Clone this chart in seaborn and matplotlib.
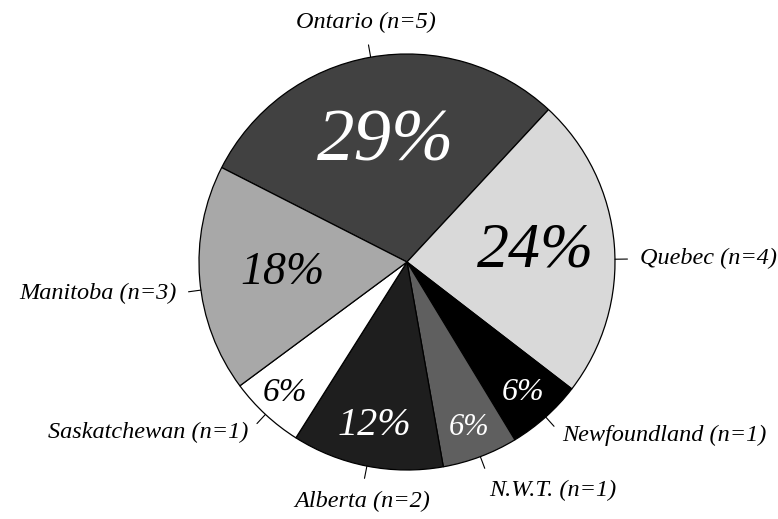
import numpy as np
import matplotlib
matplotlib.use("Agg")
import matplotlib.pyplot as plt
import seaborn as sns

# slice data, clockwise from the top-left
regions = ["Ontario", "Quebec", "Newfoundland", "N.W.T.", "Alberta", "Saskatchewan", "Manitoba"]
counts = [5, 4, 1, 1, 2, 1, 3]

# styles
colors = ["#414141", "#d9d9d9", "#000000", "#5f5f5f", "#1e1e1e", "#ffffff", "#a8a8a8"]
pct_colors = ["white", "black", "white", "white", "white", "black", "black"]
pct_sizes = [54, 46, 23, 22, 29, 24, 33]
pct_dist = [0.58, 0.62, 0.84, 0.85, 0.80, 0.86, 0.60]
label_shift = [0, -4, 0, 0, 0, 0, 3]  # degrees, nudges outside labels

sns.set_theme(style="white")
plt.rcParams["font.family"] = ["Liberation Serif", "DejaVu Serif"]

fig = plt.figure(figsize=(7.78, 5.19), dpi=100)
ax = fig.add_axes([0, 0, 1, 1])

wedges, _ = ax.pie(counts, colors=colors, startangle=153, counterclock=False,
                   radius=1.0, wedgeprops=dict(edgecolor="black", linewidth=0.9))

total = sum(counts)
for i, w in enumerate(wedges):
    mid_deg = (w.theta1 + w.theta2) / 2
    mid = np.deg2rad(mid_deg)
    c, s = np.cos(mid), np.sin(mid)
    # percent inside the slice
    pct = f"{round(100 * counts[i] / total)}%"
    ax.text(pct_dist[i] * c, pct_dist[i] * s, pct, ha="center", va="center",
            fontsize=pct_sizes[i], style="italic", color=pct_colors[i])
    # short leader tick and outside label
    lab = np.deg2rad(mid_deg + label_shift[i])
    lc, ls = np.cos(lab), np.sin(lab)
    ax.plot([lc, 1.06 * lc], [ls, 1.06 * ls], color="black", lw=0.8)
    ha = "left" if lc > 0.3 else ("right" if lc < -0.3 else "center")
    va = "bottom" if ls > 0.85 else ("top" if ls < -0.85 else "center")
    ax.text(1.12 * lc, 1.12 * ls, f"{regions[i]} (n={counts[i]})", ha=ha, va=va,
            fontsize=17.5, style="italic", color="black")

ax.set_xlim(-407 / 208, (778 - 407) / 208)
ax.set_ylim(-(519 - 262) / 208, 262 / 208)
ax.set_aspect("auto")
ax.axis("off")

fig.savefig("out.png", dpi=100, facecolor="white")
